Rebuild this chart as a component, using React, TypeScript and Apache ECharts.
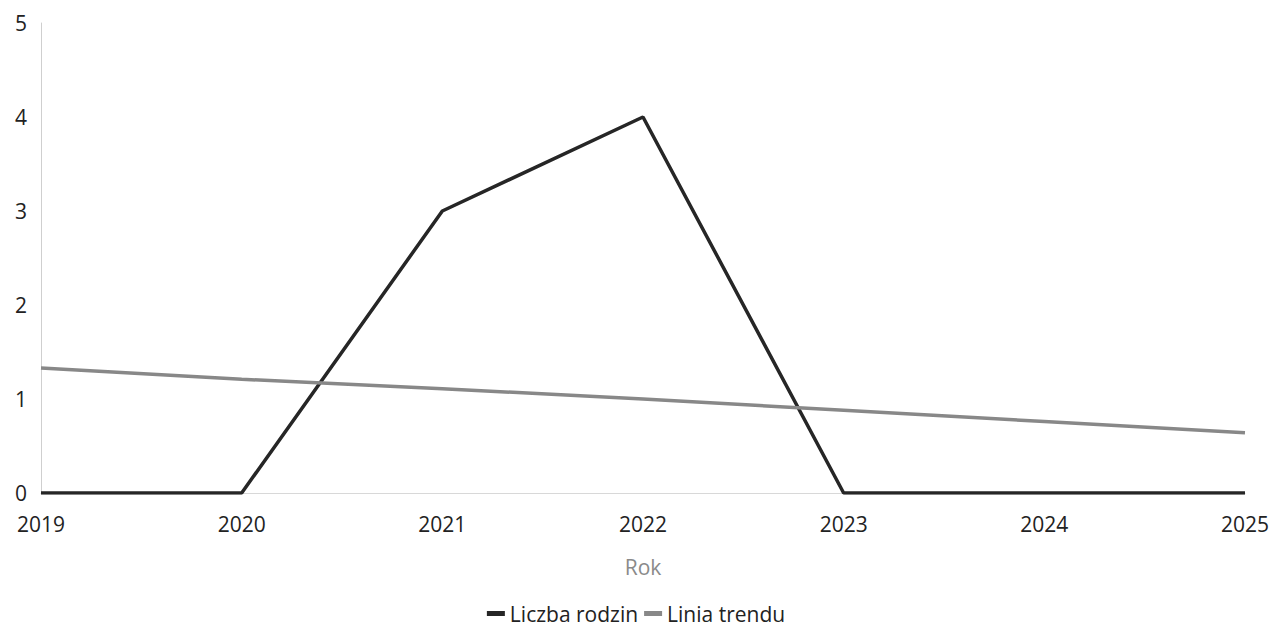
import React, { useEffect, useRef } from "react";
import * as echarts from "echarts";

const years = ["2019", "2020", "2021", "2022", "2023", "2024", "2025"];
const liczbaRodzin = [0, 0, 3, 4, 0, 0, 0];
const liniaTrendu = [1.33, 1.21, 1.11, 1.0, 0.88, 0.76, 0.64];

export default function App() {
  const ref = useRef<HTMLDivElement>(null);
  useEffect(() => {
    const chart = echarts.init(ref.current!, null, { renderer: "svg" });
    const font = "'Open Sans', 'Noto Sans', sans-serif";
    chart.setOption({
      animation: false,
      textStyle: { fontFamily: font },
      grid: { left: 41, right: 25, top: 23, bottom: 133 },
      xAxis: {
        type: "category",
        data: years,
        boundaryGap: false,
        name: "Rok",
        nameLocation: "middle",
        nameGap: 63,
        nameTextStyle: { color: "#8a8a8a", fontSize: 21, fontFamily: font },
        axisLine: { show: true, lineStyle: { color: "#d8d8d8", width: 1 } },
        axisTick: { show: false },
        axisLabel: { color: "#222", fontSize: 21, margin: 20, fontFamily: font },
        splitLine: { show: false },
      },
      yAxis: {
        type: "value",
        min: 0,
        max: 5,
        interval: 1,
        axisLine: { show: true, lineStyle: { color: "#cfcfcf", width: 1 } },
        axisTick: { show: false },
        axisLabel: { color: "#222", fontSize: 21, margin: 14, fontFamily: font },
        splitLine: { show: false },
      },
      legend: {
        bottom: -3,
        left: "center",
        itemWidth: 18,
        itemHeight: 5,
        itemGap: 6,
        icon: "rect",
        textStyle: { color: "#222", fontSize: 21, fontFamily: font },
        data: ["Liczba rodzin", "Linia trendu"],
      },
      series: [
        {
          name: "Liczba rodzin",
          type: "line",
          data: liczbaRodzin,
          symbol: "none",
          lineStyle: { color: "#262626", width: 3.5 },
          itemStyle: { color: "#262626" },
        },
        {
          name: "Linia trendu",
          type: "line",
          data: liniaTrendu,
          symbol: "none",
          lineStyle: { color: "#888888", width: 3.5 },
          itemStyle: { color: "#888888" },
        },
      ],
    });
    return () => chart.dispose();
  }, []);
  return (
    <div
      ref={ref}
      style={{ position: "absolute", left: 0, top: 0, width: 1272, height: 626 }}
    />
  );
}
